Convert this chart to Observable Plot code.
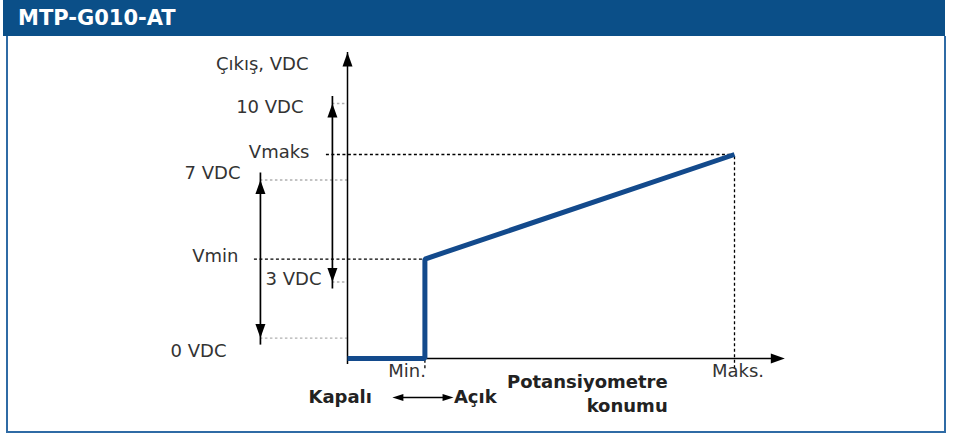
<!DOCTYPE html>
<html>
<head>
<meta charset="utf-8">
<script src="https://cdn.jsdelivr.net/npm/d3@7"></script>
<script src="https://cdn.jsdelivr.net/npm/@observablehq/plot@0.6"></script>
<style>
  body { margin: 0; background: #fff; }
  #frame { position: relative; width: 953px; height: 433px; overflow: hidden; font-family: "DejaVu Sans", Verdana, sans-serif; }
  #hdr { position: absolute; left: 3px; top: 0; width: 942px; height: 36px; background: #0b4f88; color: #fff;
         font-weight: bold; font-size: 21px; line-height: 36px; padding-left: 15px; box-sizing: border-box; }
  #box { position: absolute; left: 6px; top: 36px; width: 940px; height: 397px; border: 2px solid #2f6ba5;
         border-top: none; box-sizing: border-box; }
  #chart { position: absolute; left: 0; top: 37px; }
</style>
</head>
<body>
<div id="frame">
  <div id="hdr"></div>
  <div id="box"></div>
  <div id="chart"></div>
</div>
<script>
// ---- data ----
const titleText = "MTP-G010-AT";
const yTitle = "Çıkış, VDC";
const xTitle = ["Potansiyometre", "konumu"];
const positionLabels = ["Min.", "Maks."];
const positionValues = [20, 100];
const curveX = [0, 20, 20, 100];
const curveY = [0, 0, 3.9, 8];
const voltLabels = ["0 VDC", "3 VDC", "7 VDC", "10 VDC"];
const voltValues = [0.8, 3, 7, 10];
const setpointLabels = ["Vmin", "Vmaks"];
const setpointValues = [3.9, 8];
const rangeNames = ["Vmin", "Vmaks"];
const rangeLow = [0.8, 3];
const rangeHigh = [7, 10];
const stateLabels = ["Kapalı", "Açık"];

document.getElementById("hdr").textContent = titleText;

// ---- layout (data units) ----
const AXIS_TOP = 12, AXIS_RIGHT = 113;
const rangeCol = [-22.5, -3.9];
const stateArrow = [11.6, 27.4];

const head = (w, h) => ({draw(ctx) { ctx.moveTo(0, 0); ctx.lineTo(w / 2, h); ctx.lineTo(-w / 2, h); ctx.closePath(); }});
const bigHead = head(10, 14), smallHead = head(7, 11);

const curve = curveX.map((x, i) => ({x, y: curveY[i]}));
const ranges = rangeNames.map((n, i) => ({name: n, col: rangeCol[i], lo: rangeLow[i], hi: rangeHigh[i]}));
const refLines = ranges.flatMap(r => [{y: r.lo, x1: r.col}, {y: r.hi, x1: r.col}]);
const setLines = setpointValues.map((v, i) => ({y: v, x1: rangeCol[i] - 1.55, x2: positionValues[i]}));
const posLines = positionValues.map((p, i) => ({x: p, top: setpointValues[i]}));

const TXT = "#333", BOLD = "#222";
const lbl = (text, x, y, dx, dy, anchor, bold) =>
  Plot.text([{x, y, t: text}], {x: "x", y: "y", text: "t", dx, dy, textAnchor: anchor,
    fontSize: 18, fontWeight: bold ? "bold" : "normal", fill: bold ? BOLD : TXT});

const vIdx = l => voltValues[voltLabels.indexOf(l)];

const chart = Plot.plot({
  width: 953, height: 396,
  marginLeft: 347, marginRight: 219, marginTop: 66, marginBottom: 75,
  x: {domain: [0, 100], axis: null},
  y: {domain: [0, 10], axis: null},
  style: {fontFamily: "'DejaVu Sans', Verdana, sans-serif", fontSize: "18px", background: "transparent"},
  marks: [
    // gray dotted reference levels
    Plot.ruleY(refLines, {y: "y", x1: "x1", x2: 0, stroke: "#b0b0b0", strokeWidth: 1.3, strokeDasharray: "2.5 2.5"}),
    // black dotted setpoint lines
    Plot.ruleY(setLines, {y: "y", x1: "x1", x2: "x2", stroke: "#000", strokeWidth: 1.3, strokeDasharray: "3 2.5"}),
    Plot.ruleX(posLines, {x: "x", y1: -0.4, y2: "top", stroke: "#000", strokeWidth: 1.3, strokeDasharray: "3 2.5"}),
    // axes
    Plot.ruleX([0], {x: d => d, y1: 0, y2: AXIS_TOP, stroke: "#000", strokeWidth: 1.5, insetTop: 6}),
    Plot.dot([{x: 0, y: AXIS_TOP}], {x: "x", y: "y", symbol: bigHead, rotate: 0, fill: "#000", stroke: "none"}),
    Plot.ruleY([0], {y: d => d, x1: 0, x2: AXIS_RIGHT, stroke: "#000", strokeWidth: 1.5, insetRight: 6}),
    Plot.dot([{x: AXIS_RIGHT, y: 0}], {x: "x", y: "y", symbol: bigHead, rotate: 90, fill: "#000", stroke: "none"}),
    // range arrows
    Plot.ruleX(ranges, {x: "col", y1: "lo", y2: "hi", stroke: "#000", strokeWidth: 1.7, insetTop: 7, insetBottom: 7}),
    Plot.dot(ranges, {x: "col", y: "hi", symbol: bigHead, rotate: 0, fill: "#000", stroke: "none"}),
    Plot.dot(ranges, {x: "col", y: "lo", symbol: bigHead, rotate: 180, fill: "#000", stroke: "none"}),
    // output curve
    Plot.line(curve, {x: "x", y: "y", stroke: "#134a8c", strokeWidth: 5, strokeLinejoin: "miter", strokeLinecap: "butt"}),
    // state arrow (Kapalı <-> Açık)
    Plot.ruleY([0], {y: d => d, x1: stateArrow[0], x2: stateArrow[1], dy: 39, stroke: "#000", strokeWidth: 1.5, insetLeft: 5, insetRight: 5}),
    Plot.dot([{x: stateArrow[0], y: 0, r: -90}, {x: stateArrow[1], y: 0, r: 90}], {x: "x", y: "y", rotate: "r", dy: 39, symbol: smallHead, fill: "#000", stroke: "none"}),
    // labels
    lbl(yTitle, 0, AXIS_TOP, -39, 12.2, "end"),
    lbl("10 VDC", 0, vIdx("10 VDC"), -44, 4.2, "end"),
    lbl(setpointLabels[1], 0, setpointValues[1], -38, -1.8, "end"),
    lbl("7 VDC", 0, vIdx("7 VDC"), -107, -6.8, "end"),
    lbl(setpointLabels[0], 0, setpointValues[0], -109, -3.3, "end"),
    lbl("3 VDC", 0, vIdx("3 VDC"), -26, -2.3, "end"),
    lbl("0 VDC", 0, vIdx("0 VDC"), -121, 13.6, "end"),
    lbl(positionLabels[0], positionValues[0], 0, 1, 13.2, "end"),
    lbl(positionLabels[1], positionValues[1], 0, 3.5, 13.2, "middle"),
    lbl(stateLabels[0], positionValues[0], 0, -53, 39.2, "end", true),
    lbl(stateLabels[1], positionValues[0], 0, 29, 39.2, "start", true),
    lbl(xTitle[0], 60, 0, 88, 24.2, "end", true),
    lbl(xTitle[1], 60, 0, 88, 48.2, "end", true)
  ]
});
document.getElementById("chart").appendChild(chart);
</script>
</body>
</html>
